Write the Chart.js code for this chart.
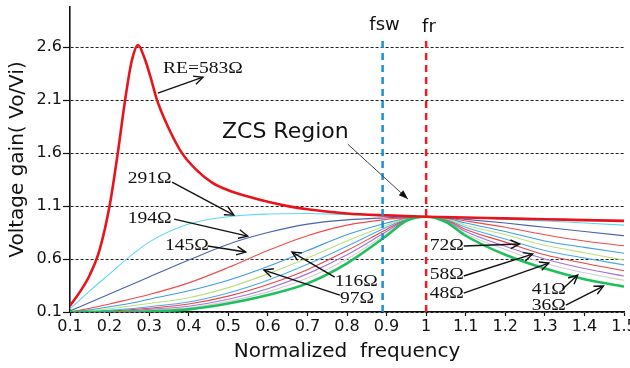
<!DOCTYPE html>
<html>
<head>
<meta charset="utf-8">
<script src="https://cdn.jsdelivr.net/npm/chart.js@4.4.1/dist/chart.umd.min.js"></script>
<style>
  html, body { margin: 0; padding: 0; background: #fff; }
  canvas { display: block; }
</style>
</head>
<body>
<canvas id="gainChart" width="630" height="368"></canvas>
<script>
// tick labels
const xTicks = [0.1, 0.2, 0.3, 0.4, 0.5, 0.6, 0.7, 0.8, 0.9, 1, 1.1, 1.2, 1.3, 1.4, 1.5];
const yTicks = [0.1, 0.6, 1.1, 1.6, 2.1, 2.6];

// normalized frequency samples
const freq = [0.1, 0.15, 0.2, 0.25, 0.3, 0.4, 0.5, 0.6, 0.7, 0.8, 0.9, 0.95, 1.0, 1.05, 1.1, 1.2, 1.3, 1.4, 1.5];
const peakFreq = [0.1, 0.125, 0.15, 0.175, 0.2, 0.22, 0.24, 0.256, 0.272, 0.288, 0.305, 0.32, 0.35, 0.383, 0.42, 0.46, 0.5, 0.55, 0.6, 0.65, 0.7, 0.8, 0.9, 1.0, 1.1, 1.2, 1.3, 1.4, 1.5];

// voltage gain per load resistance
const gain583 = [0.16, 0.29, 0.45, 0.69, 1.1, 1.58, 2.12, 2.47, 2.62, 2.5, 2.3, 2.1, 1.83, 1.6, 1.44, 1.32, 1.25, 1.19, 1.14, 1.1, 1.07, 1.03, 1.012, 1.0, 0.992, 0.984, 0.976, 0.968, 0.96];
const gain291 = [0.13, 0.30, 0.46, 0.62, 0.76, 0.93, 1.00, 1.025, 1.03, 1.02, 1.01, 1.005, 1.0, 0.995, 0.99, 0.975, 0.96, 0.94, 0.92];
const gain194 = [0.11, 0.19, 0.27, 0.35, 0.43, 0.59, 0.74, 0.85, 0.93, 0.97, 0.99, 0.997, 1.0, 0.99, 0.975, 0.94, 0.9, 0.86, 0.82];
const gain145 = [0.1, 0.135, 0.175, 0.22, 0.265, 0.375, 0.52, 0.68, 0.82, 0.92, 0.975, 0.99, 1.0, 0.988, 0.96, 0.9, 0.83, 0.77, 0.725];
const gain116 = [0.1, 0.12, 0.15, 0.18, 0.22, 0.3, 0.40, 0.53, 0.68, 0.83, 0.94, 0.985, 1.0, 0.985, 0.94, 0.86, 0.77, 0.71, 0.655];
const gain97  = [0.1, 0.11, 0.13, 0.155, 0.18, 0.235, 0.33, 0.46, 0.61, 0.77, 0.92, 0.98, 1.0, 0.98, 0.92, 0.83, 0.73, 0.66, 0.59];
const gain72  = [0.1, 0.105, 0.115, 0.13, 0.15, 0.195, 0.28, 0.40, 0.55, 0.72, 0.90, 0.975, 1.0, 0.975, 0.90, 0.79, 0.68, 0.61, 0.545];
const gain58  = [0.1, 0.103, 0.11, 0.12, 0.135, 0.175, 0.25, 0.36, 0.50, 0.68, 0.88, 0.972, 1.0, 0.97, 0.88, 0.76, 0.64, 0.56, 0.49];
const gain48  = [0.1, 0.1, 0.105, 0.112, 0.125, 0.155, 0.22, 0.32, 0.46, 0.64, 0.86, 0.97, 1.0, 0.965, 0.86, 0.72, 0.60, 0.51, 0.44];
const gain41  = [0.1, 0.1, 0.1, 0.105, 0.115, 0.14, 0.20, 0.29, 0.42, 0.60, 0.84, 0.965, 1.0, 0.96, 0.84, 0.69, 0.56, 0.47, 0.40];
const gain36  = [0.1, 0.1, 0.1, 0.1, 0.105, 0.125, 0.18, 0.26, 0.37, 0.56, 0.82, 0.96, 1.0, 0.95, 0.82, 0.64, 0.51, 0.41, 0.34];

// switching and resonant frequency markers
const fsw = 0.89;
const fr = 1.0;

const pts = (xs, ys) => xs.map((v, i) => ({ x: v, y: ys[i] }));

function curve(label, xs, ys, color, width) {
  return {
    label: label,
    data: pts(xs, ys),
    borderColor: color,
    borderWidth: width,
    pointRadius: 0,
    fill: false,
    cubicInterpolationMode: 'monotone'
  };
}

function marker(label, at, color) {
  return {
    label: label,
    data: [{ x: at, y: 0.1 }, { x: at, y: 2.67 }],
    borderColor: color,
    borderWidth: 2.5,
    borderDash: [7, 5],
    pointRadius: 0,
    fill: false
  };
}

// labels and arrows (positions in data units)
const notes = [
  { text: 'fsw', font: '18px "DejaVu Sans"', stretch: 1, align: 'center', x: 0.895, y: 2.76 },
  { text: 'fr', font: '18px "DejaVu Sans"', stretch: 1, align: 'center', x: 1.007, y: 2.74 },
  { text: 'ZCS Region', font: '22px "DejaVu Sans"', stretch: 1, x: 0.484, y: 1.742,
    from: [0.802, 1.685], to: [0.954, 1.166], thin: true },
  { text: 'RE=583Ω', x: 0.335, y: 2.355, from: [0.322, 2.166], to: [0.436, 2.317] },
  { text: '291Ω', x: 0.246, y: 1.317, from: [0.358, 1.326], to: [0.514, 1.015] },
  { text: '194Ω', x: 0.246, y: 0.94, from: [0.363, 0.977], to: [0.549, 0.817] },
  { text: '145Ω', x: 0.34, y: 0.685, from: [0.448, 0.723], to: [0.544, 0.666] },
  { text: '116Ω', x: 0.769, y: 0.345, from: [0.769, 0.43], to: [0.661, 0.666] },
  { text: '97Ω', x: 0.782, y: 0.185, from: [0.782, 0.26], to: [0.59, 0.496] },
  { text: '72Ω', x: 1.009, y: 0.685, from: [1.095, 0.723], to: [1.236, 0.742] },
  { text: '58Ω', x: 1.009, y: 0.411, from: [1.095, 0.44], to: [1.269, 0.647] },
  { text: '48Ω', x: 1.009, y: 0.232, from: [1.095, 0.279], to: [1.31, 0.562] },
  { text: '41Ω', x: 1.267, y: 0.27, from: [1.345, 0.317], to: [1.383, 0.449] },
  { text: '36Ω', x: 1.267, y: 0.119, from: [1.353, 0.166], to: [1.448, 0.345] }
];

function arrow(ctx, x1, y1, x2, y2, thin) {
  const a = Math.atan2(y2 - y1, x2 - x1);
  ctx.save();
  ctx.strokeStyle = thin ? '#444' : '#111';
  ctx.lineWidth = thin ? 1 : 1.4;
  ctx.beginPath();
  ctx.moveTo(x1, y1);
  ctx.lineTo(x2, y2);
  ctx.stroke();
  const h = 10;
  if (thin) {
    ctx.fillStyle = '#111';
    ctx.beginPath();
    ctx.moveTo(x2, y2);
    ctx.lineTo(x2 - h * Math.cos(a - 0.35), y2 - h * Math.sin(a - 0.35));
    ctx.lineTo(x2 - h * Math.cos(a + 0.35), y2 - h * Math.sin(a + 0.35));
    ctx.closePath();
    ctx.fill();
  } else {
    ctx.beginPath();
    ctx.moveTo(x2 - h * Math.cos(a - 0.45), y2 - h * Math.sin(a - 0.45));
    ctx.lineTo(x2, y2);
    ctx.lineTo(x2 - h * Math.cos(a + 0.45), y2 - h * Math.sin(a + 0.45));
    ctx.stroke();
  }
  ctx.restore();
}

const annotate = {
  id: 'annotate',
  afterDatasetsDraw(chart) {
    const { ctx, scales: { x, y } } = chart;
    notes.forEach(n => {
      if (n.from) {
        arrow(ctx, x.getPixelForValue(n.from[0]), y.getPixelForValue(n.from[1]),
          x.getPixelForValue(n.to[0]), y.getPixelForValue(n.to[1]), n.thin);
      }
      ctx.save();
      ctx.translate(x.getPixelForValue(n.x), y.getPixelForValue(n.y));
      ctx.scale(n.stretch || 1.15, 1);
      ctx.font = n.font || '17px "Liberation Serif"';
      ctx.fillStyle = '#111';
      ctx.textAlign = n.align || 'left';
      ctx.textBaseline = 'alphabetic';
      ctx.fillText(n.text, 0, 0);
      ctx.restore();
    });
  }
};

const ctx = document.getElementById('gainChart');
const gainChart = new Chart(ctx, {
  type: 'line',
  data: {
    datasets: [
      marker('fsw', fsw, '#1b8fd6'),
      marker('fr', fr, '#ee1c25'),
      curve('583Ω', peakFreq, gain583, '#e8141c', 2.6),
      curve('36Ω', freq, gain36, '#1ec05c', 2.6),
      curve('291Ω', freq, gain291, '#5fd8f4', 1.1),
      curve('194Ω', freq, gain194, '#4a62aa', 1.1),
      curve('145Ω', freq, gain145, '#f04b4b', 1.1),
      curve('116Ω', freq, gain116, '#3d9fe0', 1.1),
      curve('97Ω', freq, gain97, '#b9e27c', 1.1),
      curve('72Ω', freq, gain72, '#4aaae6', 1.1),
      curve('58Ω', freq, gain58, '#e94545', 1.1),
      curve('48Ω', freq, gain48, '#a872d6', 1.1),
      curve('41Ω', freq, gain41, '#cfcfcf', 1.1)
    ]
  },
  options: {
    responsive: false,
    animation: false,
    layout: { padding: { top: 7, right: 6, left: 0, bottom: 0 } },
    plugins: {
      legend: { display: false },
      tooltip: { enabled: false }
    },
    scales: {
      x: {
        type: 'linear',
        min: 0.1,
        max: 1.5,
        afterBuildTicks: s => { s.ticks = xTicks.map(v => ({ value: v })); },
        afterFit: s => { s.height = 56; s.paddingLeft = 0; s.paddingRight = 0; },
        grid: { drawOnChartArea: false, drawTicks: true, tickLength: 4, tickColor: '#111', tickWidth: 1.2 },
        border: { color: '#111', width: 1.6 },
        ticks: {
          color: '#111',
          padding: 1,
          maxRotation: 0,
          autoSkip: false,
          font: { family: '"DejaVu Sans"', size: 16 },
          callback: v => String(v)
        },
        title: {
          display: true,
          text: 'Normalized  frequency',
          color: '#111',
          font: { family: '"DejaVu Sans"', size: 20 },
          padding: { top: 0, bottom: 4 }
        }
      },
      y: {
        type: 'linear',
        min: 0.1,
        max: 2.98,
        afterBuildTicks: s => { s.ticks = yTicks.map(v => ({ value: v })); },
        afterFit: s => { s.width = 70; s.paddingTop = 0; s.paddingBottom = 0; },
        grid: { color: '#222', lineWidth: 1, drawTicks: true, tickLength: 7, tickColor: '#111', tickWidth: 1.2 },
        border: { color: '#111', width: 1.6, dash: [3, 2] },
        ticks: {
          color: '#111',
          padding: 1,
          font: { family: '"DejaVu Sans"', size: 16 },
          callback: v => String(v)
        },
        title: {
          display: true,
          text: 'Voltage gain( Vo/Vi)',
          color: '#111',
          font: { family: '"DejaVu Sans"', size: 20 },
          padding: { top: 6, bottom: 0 }
        }
      }
    }
  },
  plugins: [annotate]
});
</script>
</body>
</html>
